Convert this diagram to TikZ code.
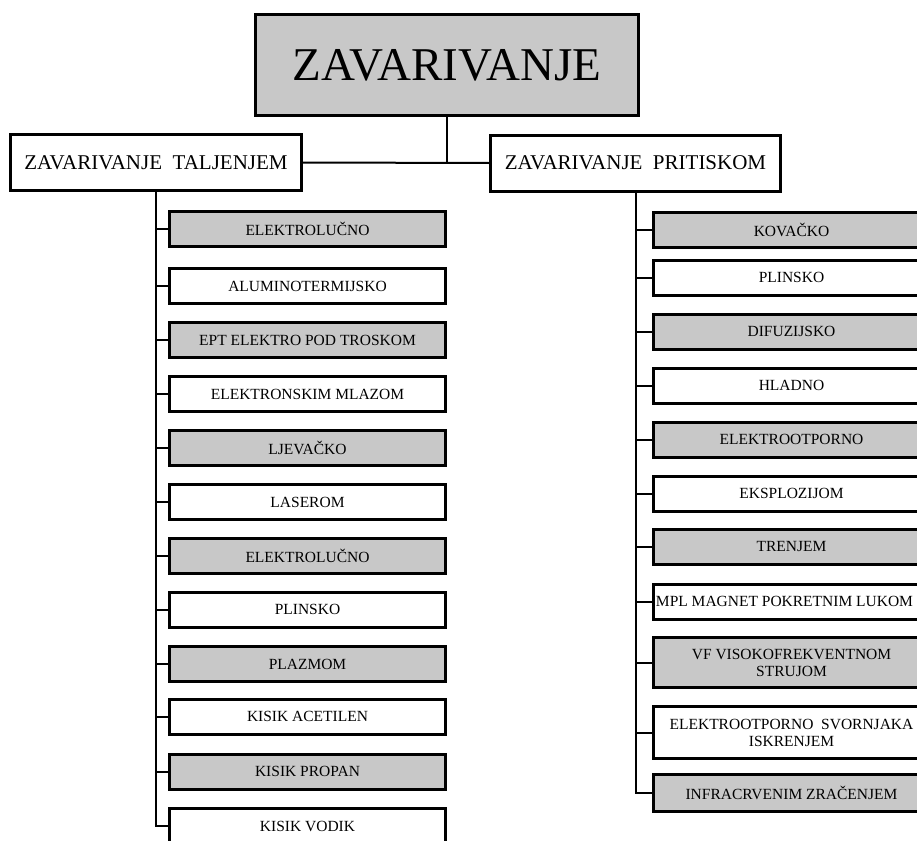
\documentclass[tikz,border=0pt]{standalone}
\usepackage{fontspec}
\setmainfont{Liberation Serif}
\definecolor{boxgray}{RGB}{200,200,200}
\begin{document}
\begin{tikzpicture}[x=1pt,y=-1pt,
  topbox/.style={draw, line width=3pt, fill=boxgray, minimum width=383pt, minimum height=101pt, inner sep=0pt, font=\fontsize{47}{50}\selectfont},
  midbox/.style={draw, line width=3pt, fill=white, minimum height=56pt, inner sep=0pt, font=\fontsize{21}{23}\selectfont},
  leaf/.style={draw, line width=3pt, minimum width=276pt, minimum height=35pt, inner sep=0pt, align=center, font=\fontsize{15.5}{17}\selectfont},
  gbox/.style={leaf, fill=boxgray},
  wbox/.style={leaf, fill=white},
  conn/.style={line width=2pt}]
\useasboundingbox (0,0) rectangle (917,840);
\fill[white] (0,0) rectangle (917,840);

\node[topbox] (Z) at (447,65) {ZAVARIVANJE};
\node[midbox, minimum width=291pt] (T) at (156,162.5) {ZAVARIVANJE\ \ TALJENJEM};
\node[midbox, minimum width=290pt] (P) at (635.5,163) {ZAVARIVANJE\ \ PRITISKOM};

% left column
\node[gbox] (L1) at (307.5,229) {ELEKTROLUČNO};
\node[wbox] (L2) at (307.5,286) {ALUMINOTERMIJSKO};
\node[gbox] (L3) at (307.5,340) {EPT ELEKTRO POD TROSKOM};
\node[wbox] (L4) at (307.5,394) {ELEKTRONSKIM MLAZOM};
\node[gbox] (L5) at (307.5,447.5) {LJEVAČKO};
\node[wbox] (L6) at (307.5,502) {LASEROM};
\node[gbox] (L7) at (307.5,555.5) {ELEKTROLUČNO};
\node[wbox] (L8) at (307.5,609.5) {PLINSKO};
\node[gbox] (L9) at (307.5,664) {PLAZMOM};
\node[wbox] (L10) at (307.5,716.5) {KISIK ACETILEN};
\node[gbox] (L11) at (307.5,771.5) {KISIK PROPAN};
\node[wbox] (L12) at (307.5,826) {KISIK VODIK};

% right column
\node[gbox] (R1) at (791.5,229.5) {KOVAČKO};
\node[wbox] (R2) at (791.5,277.5) {PLINSKO};
\node[gbox] (R3) at (791.5,331.5) {DIFUZIJSKO};
\node[wbox] (R4) at (791.5,385.5) {HLADNO};
\node[gbox] (R5) at (791.5,439.5) {ELEKTROOTPORNO};
\node[wbox] (R6) at (791.5,493.5) {EKSPLOZIJOM};
\node[gbox] (R7) at (791.5,546.5) {TRENJEM};
\node[wbox] (R8) at (791.5,601.5) {MPL MAGNET POKRETNIM LUKOM\hspace*{14pt}};
\node[gbox, minimum height=50pt] (R9) at (791.5,662.5) {VF VISOKOFREKVENTNOM\\STRUJOM};
\node[wbox, minimum height=52pt] (R10) at (791.5,732.5) {ELEKTROOTPORNO\ \ SVORNJAKA\\ISKRENJEM};
\node[gbox, minimum height=37pt] (R11) at (791.5,793) {INFRACRVENIM ZRAČENJEM};

% connectors
\draw[conn] (Z.south) -- (Z.south |- T.east);
\draw[conn] (T.east) -- (P.west);
\draw[conn] (T.south) |- (L12.west);
\foreach \i in {1,...,11} {\draw[conn] (T.south |- L\i.west) -- (L\i.west);}
\draw[conn] (P.south) |- (R11.west);
\foreach \i in {1,...,10} {\draw[conn] (P.south |- R\i.west) -- (R\i.west);}
\end{tikzpicture}
\end{document}
